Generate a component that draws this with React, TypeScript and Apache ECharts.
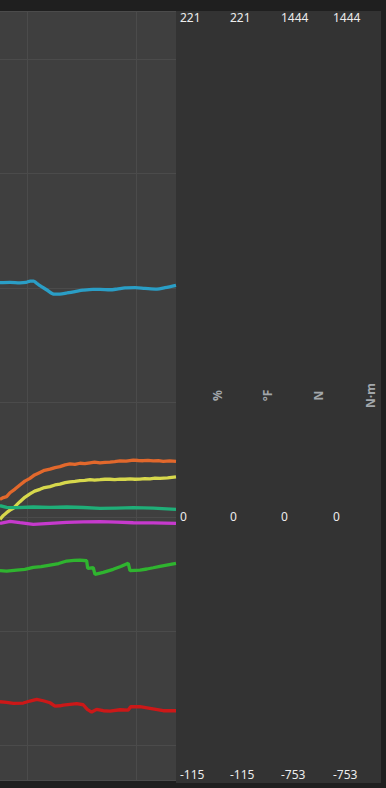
import React, { useEffect, useRef } from "react";
import * as echarts from "echarts";

// ---- data ----
const axisNames = ["%", "°F", "N", "N·m"];
const axisMins = [-115, -115, -753, -753];
const axisMaxs = [221, 221, 1444, 1444];
const timeMin = 7.523;
const timeMax = 23.67;

// [time (s), value]
const blueSeries = [
  [7.52, 102.3], [8.44, 102.4], [9.35, 102.2], [9.9, 102.4], [10.3, 103.0], [10.6, 103.0],
  [10.9, 102.0], [11.19, 101.0], [11.83, 99.1], [12.3, 97.6], [12.57, 97.3], [13.02, 97.3],
  [13.67, 97.8], [14.4, 98.4], [15.14, 99.0], [16.05, 99.4], [16.7, 99.4], [17.61, 99.2],
  [18.25, 99.5], [18.99, 100.0], [19.91, 100.1], [20.82, 99.8], [21.92, 99.5], [22.66, 100.1],
  [23.67, 101.1],
];
const orangeSeries = [
  [7.52, 7.6], [7.83, 8.4], [8.13, 8.8], [8.44, 10.5], [8.9, 12.1], [9.35, 13.9], [9.8, 15.6],
  [10.27, 16.8], [10.7, 18.3], [11.19, 19.4], [11.6, 20.3], [12.11, 20.8], [12.57, 21.5],
  [13.02, 21.9], [13.5, 22.7], [13.94, 23.1], [14.4, 22.9], [14.86, 23.4], [15.3, 23.2],
  [15.78, 23.6], [16.2, 23.9], [16.7, 23.6], [17.15, 23.8], [17.61, 23.9], [18.05, 24.1],
  [18.53, 24.4], [19.1, 24.3], [19.75, 24.8], [20.2, 24.6], [20.67, 24.5], [21.1, 24.7],
  [21.58, 24.4], [22.05, 24.5], [22.5, 24.2], [23.1, 24.4], [23.67, 24.2],
];
const yellowSeries = [
  [7.52, -1.1], [7.83, 0.6], [8.13, 1.8], [8.44, 2.9], [8.74, 3.7], [9.05, 5.2], [9.35, 6.6],
  [9.8, 8.5], [10.27, 10.0], [10.7, 11.2], [11.19, 12.0], [11.6, 12.8], [12.11, 13.2],
  [12.57, 13.9], [13.02, 14.3], [13.5, 14.9], [13.94, 15.3], [14.4, 15.5], [14.86, 15.8],
  [15.3, 15.9], [15.78, 16.2], [16.2, 16.0], [16.7, 16.2], [17.15, 16.4], [17.61, 16.4],
  [18.05, 16.2], [18.53, 16.5], [19.0, 16.4], [19.45, 16.6], [19.9, 16.4], [20.36, 16.5],
  [20.8, 16.7], [21.28, 16.6], [21.75, 16.9], [22.2, 16.8], [22.9, 17.0], [23.67, 17.4],
];
const tealSeries = [
  [7.52, 30.6], [8.13, 26.0], [9.05, 24.9], [10.58, 26.9], [12.11, 26.0], [13.64, 26.9],
  [15.16, 25.5], [16.7, 23.1], [18.25, 24.0], [19.75, 24.9], [21.58, 23.5], [23.67, 20.3],
];
const magentaSeries = [
  [7.52, -19.7], [8.44, -14.0], [9.35, -18.0], [10.58, -22.6], [12.11, -19.7], [13.64, -16.9],
  [15.16, -15.8], [16.7, -15.1], [18.25, -16.2], [19.75, -18.0], [21.58, -18.6], [23.67, -19.7],
];
const greenSeries = [
  [7.52, -155.1], [8.13, -156.0], [9.05, -153.1], [9.8, -151.0], [10.58, -145.4], [11.3, -143.5],
  [12.11, -138.9], [12.9, -134.6], [13.64, -127.4], [14.3, -125.8], [14.86, -124.6],
  [15.47, -126.6], [15.57, -148.3], [16.08, -146.6], [16.24, -165.4], [17.0, -159.7],
  [17.91, -151.1], [18.6, -143.0], [19.29, -134.0], [19.45, -155.1], [20.36, -153.1],
  [21.0, -150.2], [21.58, -146.6], [22.2, -142.5], [22.81, -138.9], [23.67, -134.0],
];
const redSeries = [
  [7.52, -529.4], [8.13, -531.1], [8.74, -534.0], [9.66, -533.1], [10.27, -527.4],
  [10.89, -522.6], [11.49, -526.6], [12.11, -532.3], [12.57, -541.7], [13.02, -540.9],
  [13.33, -538.9], [14.56, -535.1], [15.16, -538.0], [15.53, -551.1], [15.93, -558.9],
  [16.39, -551.1], [17.0, -555.1], [17.61, -556.0], [18.53, -552.3], [19.29, -553.1],
  [19.51, -543.7], [20.36, -543.7], [21.28, -548.3], [22.5, -555.1], [23.67, -555.1],
];

const seriesList = [
  { name: "blue", data: blueSeries, axis: 0, color: "#2a9ec6", smooth: 0.3 },
  { name: "orange", data: orangeSeries, axis: 1, color: "#e2682c", smooth: 0 },
  { name: "yellow", data: yellowSeries, axis: 1, color: "#d7d84c", smooth: 0 },
  { name: "teal", data: tealSeries, axis: 2, color: "#1fae78", smooth: 0 },
  { name: "magenta", data: magentaSeries, axis: 3, color: "#c63acd", smooth: 0 },
  { name: "green", data: greenSeries, axis: 2, color: "#2fb42f", smooth: 0 },
  { name: "red", data: redSeries, axis: 3, color: "#cc1818", smooth: 0 },
];

const FONT = "'Segoe UI', 'Noto Sans', 'Open Sans', sans-serif";
const axisOffsets = [0, 50, 101, 153];

export default function App() {
  const ref = useRef<HTMLDivElement>(null);
  useEffect(() => {
    if (!ref.current) return;
    const chart = echarts.init(ref.current, undefined, { renderer: "svg" });
    const yAxes = axisNames.map((name, i) => {
      const min = axisMins[i];
      const max = axisMaxs[i];
      return {
        type: "value",
        position: "right",
        min,
        max,
        offset: axisOffsets[i],
        name,
        nameLocation: "middle",
        nameRotate: 90,
        nameGap: 35,
        nameTextStyle: { color: "#a2a7ab", fontWeight: "bold", fontSize: 12, fontFamily: FONT },
        axisLine: { show: false },
        axisTick: { show: false },
        splitLine: { show: i === 0, lineStyle: { color: "#4b4b4b", width: 1 } },
        axisLabel: {
          color: "#ededed",
          fontSize: 12,
          fontFamily: FONT,
          margin: 4,
          showMinLabel: true,
          showMaxLabel: true,
          verticalAlignMinLabel: "bottom",
          verticalAlignMaxLabel: "top",
          formatter: (v: number) => (v === min || v === max || v === 0 ? String(v) : ""),
        },
      };
    });
    chart.setOption({
      animation: false,
      backgroundColor: "#1f1f1f",
      grid: {
        left: 0,
        right: 210,
        top: 11,
        bottom: 8,
        show: true,
        backgroundColor: "#3f3f3f",
        borderWidth: 0,
        containLabel: false,
        outerBoundsMode: "none",
      },
      graphic: [
        {
          type: "rect",
          z: -10,
          silent: true,
          shape: { x: 176, y: 11, width: 205, height: 772 },
          style: { fill: "#333333" },
        },
      ],
      xAxis: {
        type: "value",
        min: timeMin,
        max: timeMax,
        splitNumber: 2,
        axisLine: { show: false },
        axisTick: { show: false },
        axisLabel: { show: false },
        splitLine: { show: true, showMinLine: false, showMaxLine: false, lineStyle: { color: "#4b4b4b", width: 1 } },
      },
      yAxis: yAxes,
      series: seriesList.map((s) => ({
        type: "line",
        name: s.name,
        yAxisIndex: s.axis,
        data: s.data,
        showSymbol: false,
        smooth: s.smooth,
        lineStyle: { color: s.color, width: 3.3 },
        itemStyle: { color: s.color },
      })),
    });
    return () => chart.dispose();
  }, []);
  return (
    <div
      ref={ref}
      style={{ position: "absolute", left: 0, top: 0, width: 386, height: 788 }}
    />
  );
}
